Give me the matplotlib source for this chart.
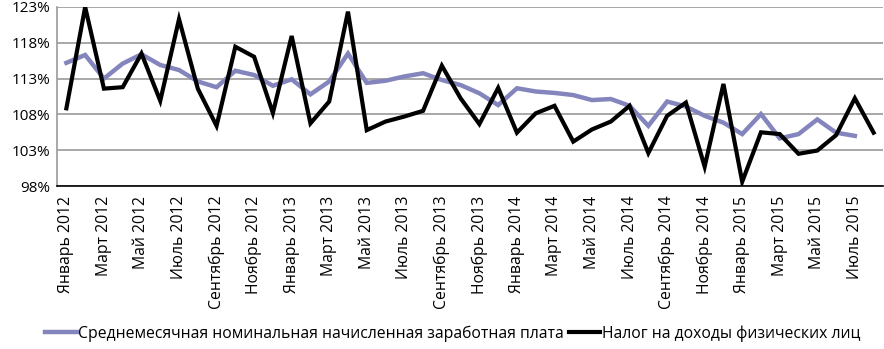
import matplotlib
matplotlib.use("Agg")
import matplotlib.pyplot as plt
import numpy as np

plt.rcParams['font.family'] = ['Open Sans', 'DejaVu Sans']

months = ['Январь', 'Февраль', 'Март', 'Апрель', 'Май', 'Июнь', 'Июль',
          'Август', 'Сентябрь', 'Октябрь', 'Ноябрь', 'Декабрь']
periods = [m + ' ' + str(y) for y in (2012, 2013, 2014, 2015) for m in months][:44]

# Среднемесячная номинальная начисленная заработная плата, % (Jan 2012 - Jul 2015)
wage = [115.2, 116.3, 113.0, 115.1, 116.4, 114.9, 114.2, 112.6, 111.8, 114.1,
        113.5, 112.0, 112.9, 110.8, 112.6, 116.5, 112.4, 112.7, 113.3, 113.75,
        112.8, 112.1, 110.95, 109.3, 111.65, 111.2, 111.0, 110.7, 110.0, 110.15,
        109.2, 106.4, 109.8, 109.1, 107.8, 106.85, 105.25, 108.05, 104.65, 105.25,
        107.3, 105.45, 105.0]
# Налог на доходы физических лиц, % (Jan 2012 - Aug 2015)
ndfl = [108.85, 123.0, 111.6, 111.8, 116.5, 109.9, 121.3, 111.6, 106.4, 117.45,
        116.05, 108.2, 118.95, 106.75, 109.8, 122.35, 105.8, 107.0, 107.7, 108.5,
        114.8, 110.25, 106.65, 111.7, 105.45, 108.15, 109.2, 104.2, 105.9, 107.0,
        109.2, 102.6, 107.8, 109.65, 100.7, 112.25, 98.6, 105.5, 105.25, 102.5,
        102.95, 105.1, 110.25, 105.45]

yticks = [98, 103, 108, 113, 118, 123]

fig = plt.figure(figsize=(8.84, 3.49), dpi=100)
ax = fig.add_axes([57/884, 1 - 186/349, 826/884, 179/349])

x = np.arange(len(periods))
ax.plot(x[:len(wage)], wage, color='#8585BD', lw=3.2, solid_joinstyle='miter',
        label='Среднемесячная номинальная начисленная заработная плата')
ax.plot(x[:len(ndfl)], ndfl, color='black', lw=3.0, solid_joinstyle='miter',
        label='Налог на доходы физических лиц')

ax.set_xlim(-0.5, len(periods) - 0.5)
ax.set_ylim(98, 123)
ax.set_yticks(yticks)
ax.set_yticklabels([f'{v}%' for v in yticks], fontsize=11)
ax.set_xticks(x[::2])
ax.set_xticklabels(periods[::2], rotation=90, fontsize=11.3)
ax.tick_params(axis='both', length=0, pad=7)
ax.tick_params(axis='y', pad=5)

ax.grid(axis='y', color='#9a9a9a', lw=1.2)
ax.set_axisbelow(True)
for s in ('top', 'right'):
    ax.spines[s].set_visible(False)
ax.spines['left'].set_color('#9a9a9a')
ax.spines['left'].set_linewidth(1.2)
ax.spines['bottom'].set_color('black')
ax.spines['bottom'].set_linewidth(1.2)

fig.legend(loc='lower center', bbox_to_anchor=(0.512, -0.02), ncol=2, frameon=False,
           fontsize=11.3, handlelength=2.0, handletextpad=0.1, columnspacing=0.3)

fig.savefig('out.png', dpi=100)
